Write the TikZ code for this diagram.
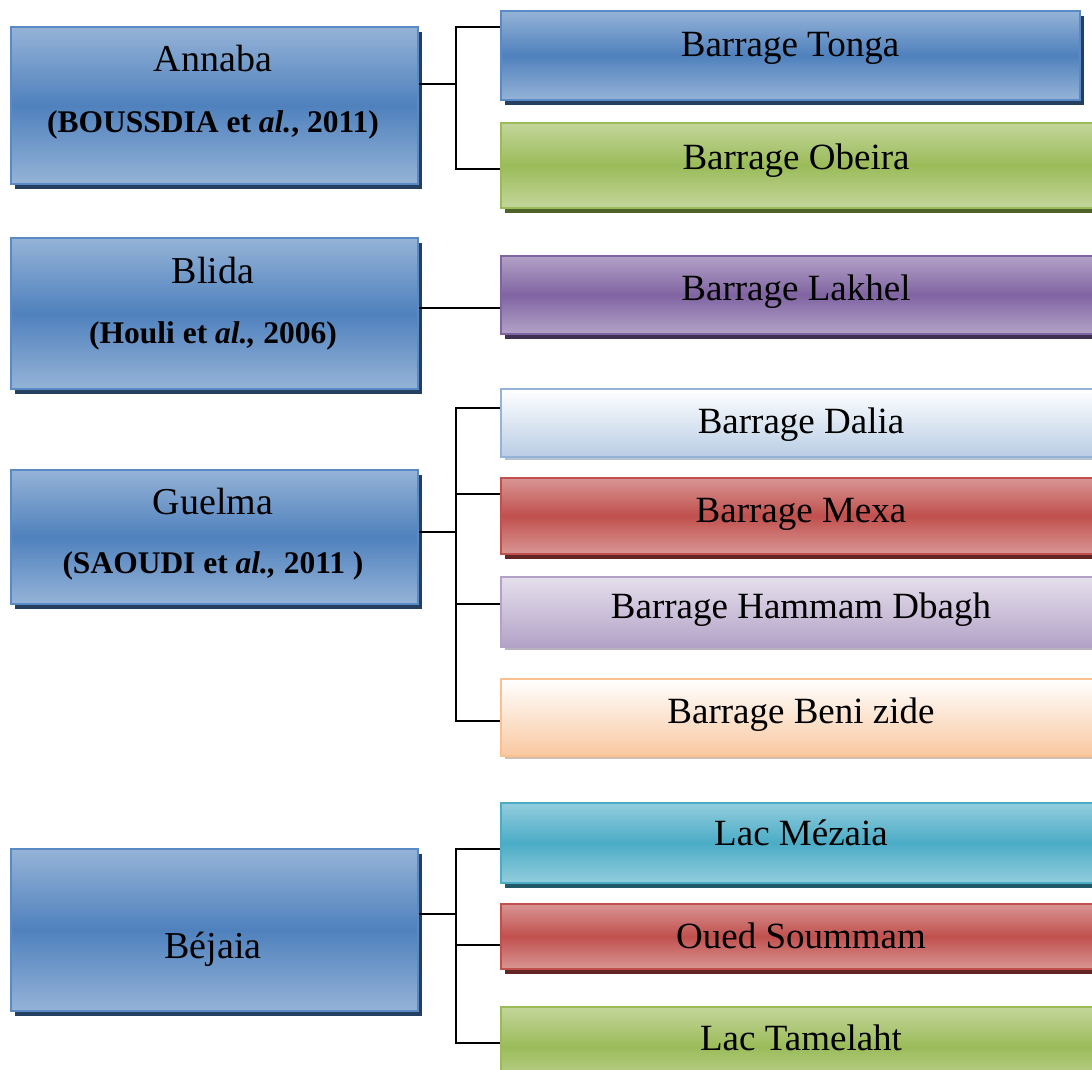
\documentclass[tikz,border=0pt]{standalone}
\usepackage{fontspec}
\setmainfont{Liberation Serif}
\usetikzlibrary{shadows}
\definecolor{blueL}{HTML}{95B3D7}
\definecolor{blueM}{HTML}{4F81BD}
\definecolor{blueS}{HTML}{243F60}
\definecolor{blueB}{HTML}{5A8AC6}
\definecolor{greenL}{HTML}{C3D69B}
\definecolor{greenM}{HTML}{9BBB59}
\definecolor{greenS}{HTML}{4F6228}
\definecolor{purpL}{HTML}{B3A2C7}
\definecolor{purpM}{HTML}{8064A2}
\definecolor{purpS}{HTML}{3F3151}
\definecolor{redL}{HTML}{D99694}
\definecolor{redM}{HTML}{C0504D}
\definecolor{redS}{HTML}{632423}
\definecolor{aquaL}{HTML}{93CDDD}
\definecolor{aquaM}{HTML}{4BACC6}
\definecolor{aquaS}{HTML}{215968}
\definecolor{daliaB}{HTML}{B9CDE5}
\definecolor{daliaE}{HTML}{95B3D7}
\definecolor{daliaS}{HTML}{7F93AD}
\definecolor{hamT}{HTML}{E5E0EC}
\definecolor{hamB}{HTML}{B3A2C7}
\definecolor{hamS}{HTML}{7E7290}
\definecolor{beniB}{HTML}{F9C8A0}
\definecolor{beniE}{HTML}{FAC090}
\definecolor{beniS}{HTML}{B08A70}
\tikzset{
  base/.style={rectangle, inner sep=0pt, anchor=north west, line width=1.6pt},
  box/.style n args={4}{base, draw=#4, top color=#1, bottom color=#1, middle color=#2,
    drop shadow={shadow xshift=4pt, shadow yshift=-5pt, fill=#3, opacity=1}},
  bluebox/.style={box={blueL}{blueM}{blueS}{blueB}},
  greenbox/.style={box={greenL}{greenM}{greenS}{greenM}},
  purpbox/.style={box={purpL}{purpM}{purpS}{purpM}},
  redbox/.style={box={redL}{redM}{redS}{redM}},
  aquabox/.style={box={aquaL}{aquaM}{aquaS}{aquaM}},
  lightbox/.style n args={4}{base, draw=#3, top color=#1, bottom color=#2,
    drop shadow={shadow xshift=4pt, shadow yshift=-3pt, fill=#4, opacity=0.55}},
  lbl/.style={anchor=base, inner sep=0pt, font=\fontsize{37}{40}\selectfont},
  ttl/.style={anchor=base, inner sep=0pt, font=\fontsize{38}{42}\selectfont},
  cite/.style={anchor=base, inner sep=0pt, font=\fontsize{31.5}{36}\selectfont\bfseries},
  conn/.style={draw=black, line width=1.5pt}
}
\begin{document}
\begin{tikzpicture}[x=1pt, y=-1pt]
\useasboundingbox (0,0) rectangle (1092,1070);
\clip (0,0) rectangle (1092,1070);
\fill[white] (0,0) rectangle (1092,1070);

% left boxes
\node[bluebox, minimum width=407pt, minimum height=157pt] (annaba) at (10,26) {};
\node[bluebox, minimum width=407pt, minimum height=151pt] (blida) at (10,237) {};
\node[bluebox, minimum width=407pt, minimum height=134pt] (guelma) at (10,469) {};
\node[bluebox, minimum width=407pt, minimum height=162pt] (bejaia) at (10,848) {};

% right boxes
\node[bluebox, minimum width=579pt, minimum height=89pt] (tonga) at (500,10) {};
\node[greenbox, minimum width=600pt, minimum height=85pt] (obeira) at (500,122) {};
\node[purpbox, minimum width=600pt, minimum height=78pt] (lakhel) at (500,255) {};
\node[lightbox={white}{daliaB}{daliaE}{daliaS}, minimum width=600pt, minimum height=68pt] (dalia) at (500,388) {};
\node[redbox, minimum width=600pt, minimum height=76pt] (mexa) at (500,477) {};
\node[lightbox={hamT}{hamB}{hamB}{hamS}, minimum width=600pt, minimum height=70pt] (hammam) at (500,576) {};
\node[lightbox={white}{beniB}{beniE}{beniS}, minimum width=600pt, minimum height=77pt] (beni) at (500,678) {};
\node[aquabox, minimum width=600pt, minimum height=80pt] (mezaia) at (500,802) {};
\node[redbox, minimum width=600pt, minimum height=65pt] (soummam) at (500,903) {};
\node[greenbox, minimum width=600pt, minimum height=80pt] (tamelaht) at (500,1006) {};

% texts
\node[ttl] (tAnnaba) at (213,72) {Annaba};
\node[cite] (cAnnaba) at (213,133) {(BOUSSDIA et \textit{al.}, 2011)};
\node[ttl] (tBlida) at (213,283) {Blida};
\node[cite] (cBlida) at (213,343) {(Houli et \textit{al.,} 2006)};
\node[ttl] (tGuelma) at (213,514) {Guelma};
\node[cite] (cGuelma) at (213,573) {(SAOUDI et \textit{al.,} 2011 )};
\node[ttl] (tBejaia) at (213,958) {Béjaia};

\node[lbl] (lTonga) at (790,57) {Barrage Tonga};
\node[lbl] (lObeira) at (796,169) {Barrage Obeira};
\node[lbl] (lLakhel) at (796,300) {Barrage Lakhel};
\node[lbl] (lDalia) at (801,433) {Barrage Dalia};
\node[lbl] (lMexa) at (801,522) {Barrage Mexa};
\node[lbl] (lHammam) at (801,618) {Barrage Hammam Dbagh};
\node[lbl] (lBeni) at (801,723) {Barrage Beni zide};
\node[lbl] (lMezaia) at (801,845) {Lac Mézaia};
\node[lbl] (lSoummam) at (801,948) {Oued Soummam};
\node[lbl] (lTamelaht) at (801,1050) {Lac Tamelaht};

% connectors
\coordinate (busA) at (456,84);
\draw[conn] (annaba.east |- busA) -- (busA);
\draw[conn] ([yshift=28.5pt]tonga.west) -| (busA) |- ([yshift=-3.5pt]obeira.west);

\coordinate (busL) at (456,308);
\draw[conn] (blida.east |- busL) -- (lakhel.west |- busL);

\coordinate (busG) at (456,532);
\draw[conn] (guelma.east |- busG) -- (busG);
\draw[conn] ([yshift=15pt]dalia.west) -| (busG) |- ([yshift=-3.5pt]beni.west);
\draw[conn] ([yshift=22pt]mexa.west) -- ([yshift=22pt]mexa.west -| busG);
\draw[conn] ([yshift=8pt]hammam.west) -- ([yshift=8pt]hammam.west -| busG);

\coordinate (busB) at (456,914);
\draw[conn] (bejaia.east |- busB) -- (busB);
\draw[conn] ([yshift=-6pt]mezaia.west) -| (busB) |- ([yshift=4pt]tamelaht.west);
\draw[conn] ([yshift=-8.5pt]soummam.west) -- ([yshift=-8.5pt]soummam.west -| busB);
\end{tikzpicture}
\end{document}
